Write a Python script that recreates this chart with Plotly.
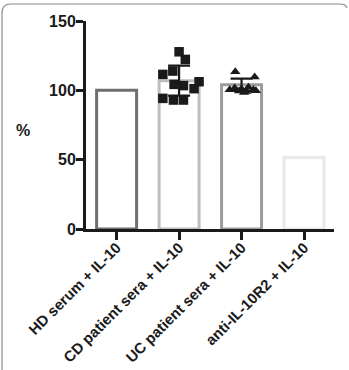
import plotly.graph_objects as go

# ---- data ----
categories = ["HD serum + IL-10", "CD patient sera + IL-10",
              "UC patient sera + IL-10", "anti-IL-10R2 + IL-10"]
bar_values = [100, 107, 104, 51.5]
bar_colors = ["#6f6f6f", "#bdbdbd", "#9c9c9c", "#e9e9e9"]

cd_values = [127.8, 122.3, 111.5, 113.9, 104.3, 103.4, 106.2, 101.2, 94.2, 93.0, 93.0]
cd_jitter = [0.0, 0.10, -0.26, -0.10, -0.08, 0.07, 0.32, 0.24, -0.26, -0.09, 0.07]
cd_sd = 10.8

uc_values = [113.4, 109.6, 100.5, 101.7, 99.5, 98.4, 102.2, 100.4, 99.7, 101.0, 99.2]
uc_jitter = [-0.10, 0.21, -0.19, -0.11, -0.04, 0.04, 0.11, 0.19, 0.23, 0.0, 0.08]
uc_sd = 4.4

y_ticks = [0, 50, 100, 150]

# ---- layout geometry (pixels) ----
W, H = 349, 370
L, R, T, B = 86, 15, 21, 141
PW, PH = W - L - R, H - T - B


def px(x):
    return (x - L) / PW


def py(y):
    return (H - B - y) / PH


FONT = "Liberation Sans"

fig = go.Figure()

fig.add_trace(go.Bar(
    x=list(range(len(categories))), y=bar_values, width=0.64,
    marker=dict(color="white", line=dict(color=bar_colors, width=3)),
    showlegend=False, hoverinfo="skip"))

fig.add_trace(go.Scatter(
    x=[1 + j for j in cd_jitter], y=cd_values, mode="markers",
    marker=dict(symbol="square", size=9.5, color="#1a1a1a"),
    showlegend=False))

fig.add_trace(go.Scatter(
    x=[2 + j for j in uc_jitter], y=uc_values, mode="markers",
    marker=dict(symbol="triangle-up", size=9, color="#1a1a1a"),
    showlegend=False))

fig.add_trace(go.Scatter(
    x=[1, 2], y=[bar_values[1], bar_values[2]], mode="markers",
    marker=dict(size=1, color="rgba(0,0,0,0)"),
    error_y=dict(type="data", array=[cd_sd, uc_sd], color="#1a1a1a",
                 thickness=2.2, width=11),
    showlegend=False))

fig.update_layout(
    width=W, height=H,
    margin=dict(l=L, r=R, t=T, b=B, autoexpand=False),
    paper_bgcolor="white", plot_bgcolor="white",
    font=dict(family=FONT, color="#1a1a1a"),
    xaxis=dict(
        range=[-0.49, 3.48], tickmode="array", automargin=False,
        tickvals=list(range(len(categories))), ticktext=categories,
        tickangle=-45, ticks="outside", ticklen=8, tickwidth=2.5,
        ticklabelstandoff=-7,
        tickcolor="#1a1a1a", showline=True, linewidth=3, linecolor="#1a1a1a",
        showgrid=False, zeroline=False,
        tickfont=dict(family=FONT, size=15, weight="bold", color="#1a1a1a")),
    yaxis=dict(
        range=[0, 150], tickmode="array", tickvals=y_ticks, automargin=False,
        ticks="outside", ticklen=7, tickwidth=2.5, tickcolor="#1a1a1a",
        ticklabelstandoff=-3,
        showline=True, linewidth=3, linecolor="#1a1a1a",
        showgrid=False, zeroline=False,
        tickfont=dict(family=FONT, size=16, weight="bold", color="#1a1a1a")),
)

fig.add_annotation(
    x=px(23), y=py(130), xref="paper", yref="paper",
    xanchor="center", yanchor="middle",
    text="%", showarrow=False,
    font=dict(family=FONT, size=16, weight="bold", color="#1a1a1a"))

# rounded frame (left and top edges)
path = (f"M {px(2)},{py(372)} L {px(2)},{py(13)} "
        f"Q {px(2)},{py(4)} {px(11)},{py(4)} "
        f"L {px(340)},{py(4)} Q {px(346)},{py(4)} {px(347)},{py(8)}")
fig.add_shape(type="path", path=path, xref="paper", yref="paper",
              line=dict(color="#8a8a8a", width=1.2), layer="above")

fig.write_html("out.html")
